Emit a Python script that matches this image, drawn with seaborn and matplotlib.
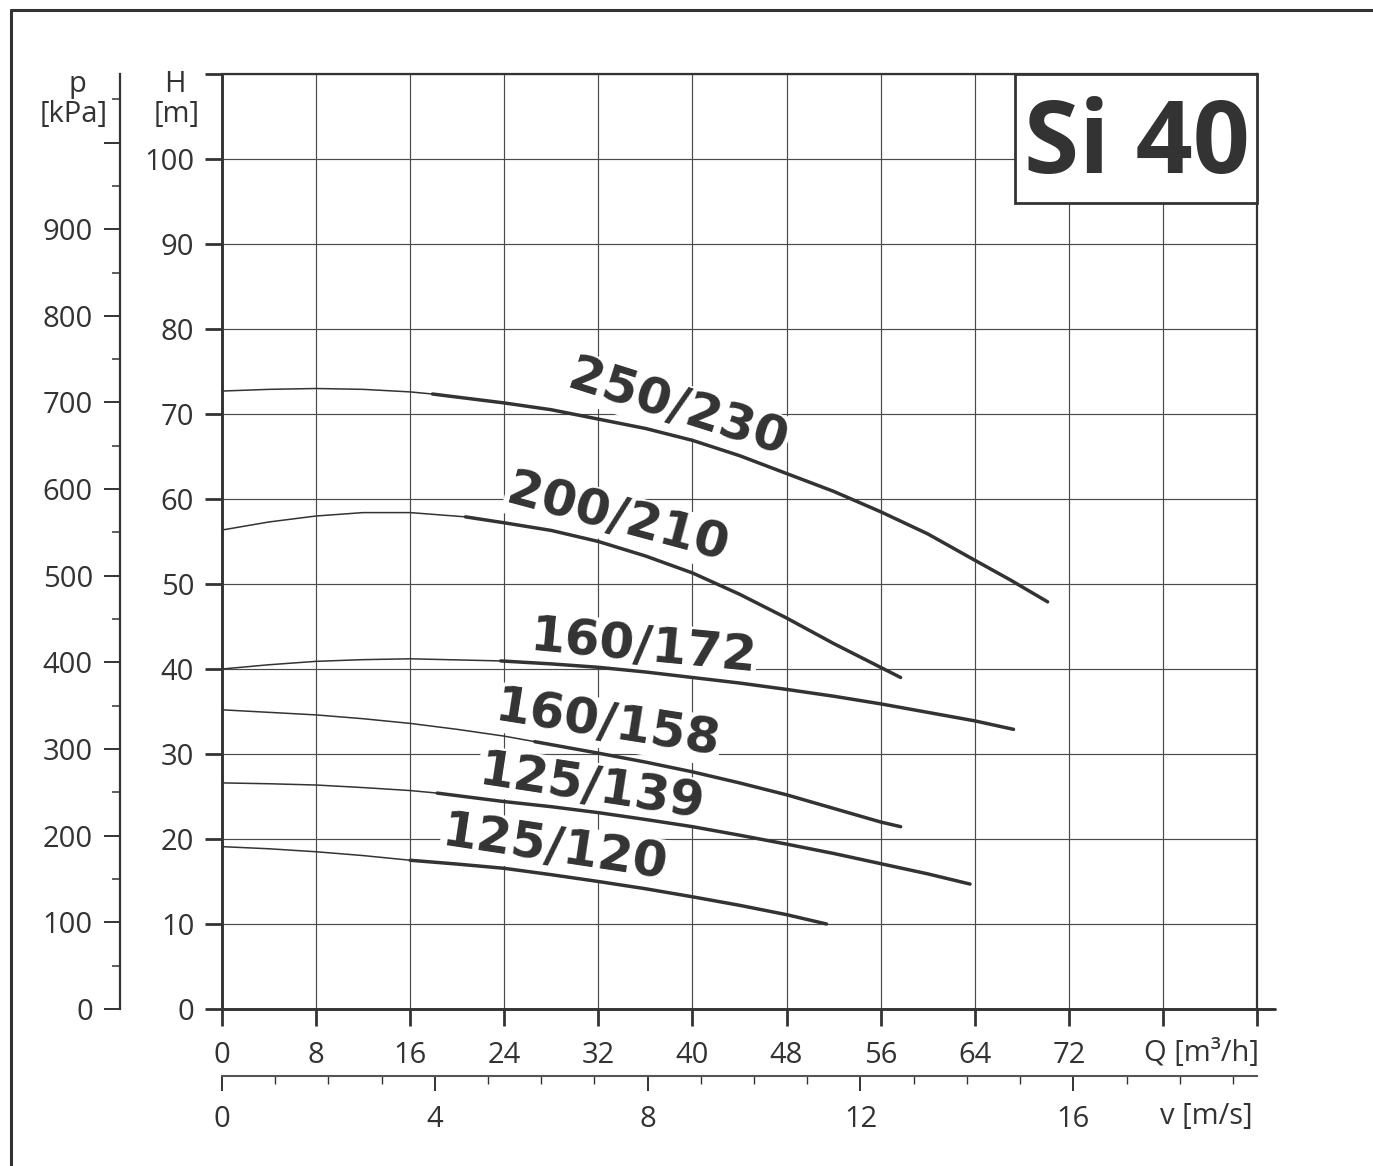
import numpy as np
import pandas as pd
import matplotlib
matplotlib.use("Agg")
import matplotlib.pyplot as plt
import seaborn as sns
from matplotlib.ticker import MultipleLocator, FixedLocator, NullFormatter
from matplotlib.lines import Line2D
from matplotlib.patches import Rectangle

# ---------------- data ----------------
labels = ["250/230", "200/210", "160/172", "160/158", "125/139", "125/120"]

q_250_230 = [0, 4, 8, 12, 16, 17.9, 24, 28, 32, 36, 40, 44, 48, 52, 56, 60, 64, 67, 70.2]
h_250_230 = [72.7, 72.9, 73.0, 72.9, 72.6, 72.35, 71.3, 70.5, 69.4, 68.3, 66.9, 65.1,
             63.0, 60.9, 58.5, 55.9, 52.8, 50.5, 47.9]
split_250_230 = 5

q_200_210 = [0, 4, 8, 12, 16, 20.7, 24, 28, 32, 36, 40, 44, 48, 52, 57.7]
h_200_210 = [56.35, 57.3, 58.0, 58.4, 58.4, 57.9, 57.2, 56.3, 55.0, 53.3, 51.3, 48.8,
             46.0, 43.0, 39.0]
split_200_210 = 5

q_160_172 = [0, 4, 8, 12, 16, 23.7, 28, 32, 36, 40, 44, 48, 52, 56, 60, 64, 67.3]
h_160_172 = [40.0, 40.5, 40.9, 41.1, 41.2, 40.95, 40.6, 40.2, 39.65, 39.0, 38.35, 37.6,
             36.8, 35.9, 34.9, 33.9, 32.9]
split_160_172 = 5

q_160_158 = [0, 4, 8, 12, 16, 20, 24, 26.6, 32, 36, 40, 44, 48, 52, 56, 57.7]
h_160_158 = [35.2, 34.9, 34.6, 34.15, 33.6, 32.9, 32.1, 31.45, 30.1, 29.05, 27.9, 26.6,
             25.2, 23.6, 22.0, 21.45]
split_160_158 = 7

q_125_139 = [0, 4, 8, 12, 16, 18.3, 24, 28, 32, 36, 40, 44, 48, 52, 56, 60, 63.6]
h_125_139 = [26.6, 26.5, 26.35, 26.05, 25.7, 25.4, 24.4, 23.8, 23.1, 22.3, 21.45, 20.45,
             19.4, 18.3, 17.1, 15.9, 14.7]
split_125_139 = 5

q_125_120 = [0, 4, 8, 12, 16, 20, 24, 28, 32, 36, 40, 44, 48, 51.4]
h_125_120 = [19.1, 18.85, 18.5, 18.05, 17.5, 17.05, 16.55, 15.8, 15.0, 14.15, 13.2, 12.2,
             11.1, 10.0]
split_125_120 = 4

label_q = [38.8, 33.6, 35.8, 32.8, 31.4, 28.3]
label_h = [70.7, 57.8, 42.6, 33.5, 26.1, 18.9]
label_rot = [-17.5, -15.0, -5.5, -9.0, -8.7, -8.6]

q_ticks = [0, 8, 16, 24, 32, 40, 48, 56, 64, 72, 80, 88]
q_ticklabels = ["0", "8", "16", "24", "32", "40", "48", "56", "64", "72", "", ""]
h_ticks = [0, 10, 20, 30, 40, 50, 60, 70, 80, 90, 100, 110]
h_ticklabels = ["0", "10", "20", "30", "40", "50", "60", "70", "80", "90", "100", ""]
p_ticks = [0, 100, 200, 300, 400, 500, 600, 700, 800, 900, 1000]
p_ticklabels = ["0", "100", "200", "300", "400", "500", "600", "700", "800", "900", ""]
v_ticks = [0, 4, 8, 12, 16]
v_ticklabels = ["0", "4", "8", "12", "16"]

curves = [
    (q_250_230, h_250_230, split_250_230),
    (q_200_210, h_200_210, split_200_210),
    (q_160_172, h_160_172, split_160_172),
    (q_160_158, h_160_158, split_160_158),
    (q_125_139, h_125_139, split_125_139),
    (q_125_120, h_125_120, split_125_120),
]

# ---------------- style ----------------
sns.set_style("white")
plt.rcParams["font.family"] = ["Open Sans", "DejaVu Sans"]
DARK = "#333333"
GRID = "#4a4a4a"
TICK_FS = 21

W, H = 1373, 1166
fig = plt.figure(figsize=(W / 100, H / 100), dpi=100)
fig.patch.set_facecolor("white")

def fx(x):
    return x / W

def fy(y):
    return 1 - y / H

ax = fig.add_axes([fx(222), fy(1009), (1257 - 222) / W, (1009 - 74) / H])
ax.set_xlim(0, 88)
ax.set_ylim(0, 110)

# grid
ax.set_xticks(q_ticks)
ax.set_yticks(h_ticks)
ax.grid(True, color=GRID, lw=0.85, zorder=0)
ax.set_axisbelow(True)

ax.set_xticklabels(q_ticklabels)
ax.set_yticklabels(h_ticklabels)
ax.tick_params(axis="both", which="major", direction="out", length=12, width=2.0,
               color=DARK, labelsize=TICK_FS, labelcolor=DARK, pad=8)
ax.tick_params(axis="x", pad=11)
ax.tick_params(bottom=True, left=True)

for s in ["left", "bottom"]:
    ax.spines[s].set_linewidth(2.1)
    ax.spines[s].set_color(DARK)
for s in ["top", "right"]:
    ax.spines[s].set_linewidth(1.6)
    ax.spines[s].set_color(DARK)
    ax.spines[s].set_visible(True)

# extension of bottom axis line to the right
ax.add_line(Line2D([1.0, 1.0 + 18 / 1035], [0, 0], transform=ax.transAxes,
                   color=DARK, lw=2.1, clip_on=False))

# curves
for q, h, sp in curves:
    sns.lineplot(x=q[:sp + 1], y=h[:sp + 1], ax=ax, color=DARK, lw=1.1,
                 sort=False, estimator=None, zorder=3)
    sns.lineplot(x=q[sp:], y=h[sp:], ax=ax, color=DARK, lw=2.5,
                 sort=False, estimator=None, zorder=3)

# curve labels
for lab, lq, lh, rot in zip(labels, label_q, label_h, label_rot):
    ax.text(lq, lh, lab, rotation=rot, rotation_mode="anchor", ha="center",
            va="center", fontsize=36, fontweight="bold", color=DARK,
            family=["DejaVu Sans"], zorder=2,
            bbox=dict(boxstyle="square,pad=0.02", fc="white", ec="none"))

ax.set_xlabel("")
ax.set_ylabel("")

# title box
ax.add_patch(Rectangle((0.766, 0.862), 0.234, 0.138, transform=ax.transAxes,
                       fc="white", ec=DARK, lw=2.0, zorder=4, clip_on=False))
ax.text(0.884, 0.9225, "Si 40", transform=ax.transAxes, ha="center", va="center",
        fontsize=72, fontweight="bold", color=DARK, zorder=5)

# p axis (kPa)
rho_g = 9.81
sec_p = ax.secondary_yaxis(-(222 - 120) / 1035,
                           functions=(lambda h: h * rho_g, lambda p: p / rho_g))
sec_p.yaxis.set_major_locator(FixedLocator(p_ticks))
sec_p.set_yticklabels(p_ticklabels)
sec_p.yaxis.set_minor_locator(MultipleLocator(50))
sec_p.yaxis.set_minor_formatter(NullFormatter())
sec_p.tick_params(axis="y", which="major", length=11.5, width=1.4, color=DARK,
                  labelsize=TICK_FS, labelcolor=DARK, pad=8)
sec_p.tick_params(axis="y", which="minor", length=5.8, width=1.1, color=DARK)
for s in sec_p.spines.values():
    s.set_color(DARK)
    s.set_linewidth(1.6)

# v axis (m/s)
v_factor = 3600 * np.pi * 0.02 ** 2
sec_v = ax.secondary_xaxis(-(1076 - 1009) / 935,
                           functions=(lambda q: q / v_factor, lambda v: v * v_factor))
sec_v.xaxis.set_major_locator(FixedLocator(v_ticks))
sec_v.set_xticklabels(v_ticklabels)
sec_v.xaxis.set_minor_locator(MultipleLocator(1))
sec_v.xaxis.set_minor_formatter(NullFormatter())
sec_v.tick_params(axis="x", which="major", length=11, width=1.4, color=DARK,
                  labelsize=TICK_FS, labelcolor=DARK, pad=10)
sec_v.tick_params(axis="x", which="minor", length=5.5, width=1.0, color=DARK)
for s in sec_v.spines.values():
    s.set_color("#555555")
    s.set_linewidth(1.5)

# axis titles
fig.text(fx(175), fy(92), "H", ha="center", va="baseline", fontsize=TICK_FS, color=DARK)
fig.text(fx(177), fy(122), "[m]", ha="center", va="baseline", fontsize=TICK_FS, color=DARK)
fig.text(fx(77), fy(92), "p", ha="center", va="baseline", fontsize=TICK_FS, color=DARK)
fig.text(fx(74), fy(122), "[kPa]", ha="center", va="baseline", fontsize=TICK_FS, color=DARK)
fig.text(fx(1259), fy(1061), "Q [m³/h]", ha="right", va="baseline", fontsize=TICK_FS, color=DARK)
fig.text(fx(1253), fy(1124), "v [m/s]", ha="right", va="baseline", fontsize=TICK_FS, color=DARK)

# outer frame (left and top visible)
fig.add_artist(Line2D([fx(10.5), fx(10.5)], [0, fy(9.5)], transform=fig.transFigure,
                      color=DARK, lw=2.2))
fig.add_artist(Line2D([fx(10.5), 1.0], [fy(9.5), fy(9.5)], transform=fig.transFigure,
                      color=DARK, lw=2.2))

fig.savefig("out.png", dpi=100)
